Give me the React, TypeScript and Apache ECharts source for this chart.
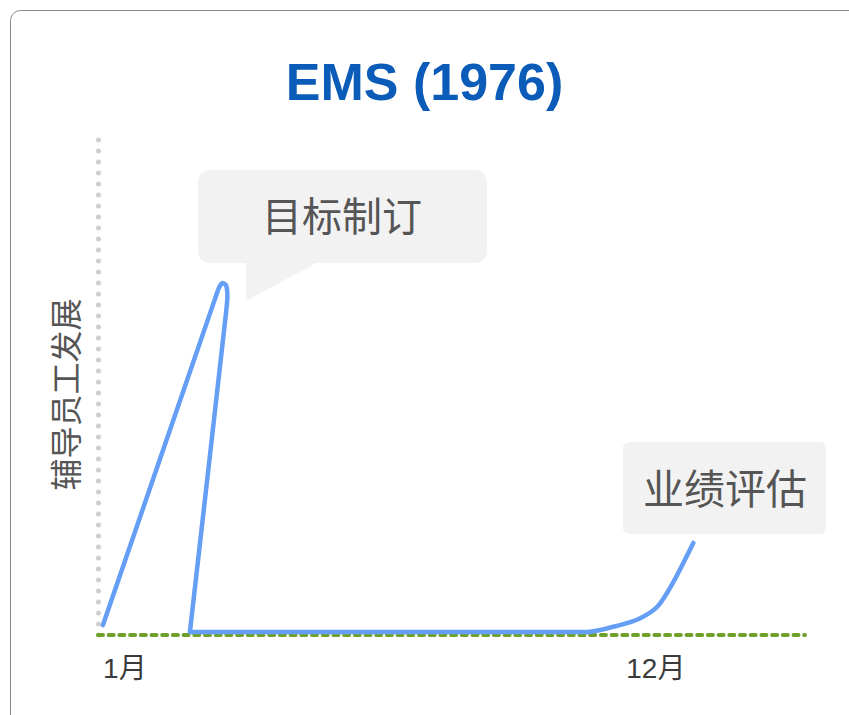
import React, { useEffect, useRef } from "react";
import * as echarts from "echarts";

const titleText = "EMS (1976)";
const yAxisName = "辅导员工发展";
const monthLabels = ["1月", "12月"];
const monthPositions = [3.8, 78.9];
const curveX = [0.7, 16.5, 17.1, 17.6, 18.1, 18.3, 18.1, 13.0, 69.2, 73.8, 76.7, 79.1, 81.3, 84.2];
const curveY = [2.0, 67.7, 70.1, 71.1, 70.7, 68.5, 65.0, 0.6, 0.6, 2.0, 3.4, 5.7, 10.5, 18.6];
const calloutTexts = ["目标制订", "业绩评估"];

const FONT = "'Liberation Sans', Arial, 'Noto Sans CJK SC', sans-serif";

export default function App() {
  const ref = useRef<HTMLDivElement>(null);
  useEffect(() => {
    if (!ref.current) return;
    const chart = echarts.init(ref.current, undefined, { renderer: "svg" });
    const data = curveX.map((x, i) => [x, curveY[i]]);
    chart.setOption({
      animation: false,
      backgroundColor: "#ffffff",
      title: {
        text: titleText,
        left: "center",
        top: 51,
        textStyle: { color: "#0b5cb8", fontSize: 52, fontWeight: "bold", fontFamily: FONT },
      },
      grid: { left: 98, right: 44, top: 140, bottom: 80 },
      xAxis: {
        type: "value",
        min: 0,
        max: 100,
        splitLine: { show: false },
        axisTick: { show: false },
        axisLine: {
          show: true,
          lineStyle: { color: "#6fa02a", width: 4, type: [5, 5.7] },
        },
        axisLabel: {
          customValues: monthPositions,
          formatter: (v: number) => {
            const i = monthPositions.indexOf(v);
            return i >= 0 ? monthLabels[i] : "";
          },
          color: "#3a3a3a",
          fontSize: 28,
          margin: 19,
          fontFamily: FONT,
        },
      },
      yAxis: {
        type: "value",
        min: 0,
        max: 100,
        name: yAxisName,
        nameLocation: "middle",
        nameGap: 15,
        nameTextStyle: { color: "#555555", fontSize: 32, fontFamily: FONT, padding: [0, 14, 0, 0] },
        splitLine: { show: false },
        axisTick: { show: false },
        axisLabel: { show: false },
        axisLine: {
          show: true,
          lineStyle: { color: "#cfcfcf", width: 5, type: [0.1, 10.9], cap: "round" },
        },
      },
      series: [
        {
          type: "line",
          data,
          smooth: 0.25,
          showSymbol: false,
          clip: false,
          lineStyle: { color: "#649ef5", width: 4.5, cap: "round", join: "round" },
        },
      ],
      graphic: [
        {
          type: "rect",
          shape: { x: 10.5, y: 10.5, width: 900, height: 760, r: 10 },
          style: { fill: "none", stroke: "#8a8a8a", lineWidth: 1 },
          z: 0,
        },
        {
          type: "rect",
          shape: { x: 198, y: 170, width: 289, height: 93, r: 12 },
          style: { fill: "#f2f2f2" },
          z: 10,
        },
        {
          type: "polygon",
          shape: { points: [[246, 262], [318, 262], [246, 301]] },
          style: { fill: "#f2f2f2" },
          z: 10,
        },
        {
          type: "text",
          x: 342,
          y: 217,
          style: {
            text: calloutTexts[0],
            fontSize: 40,
            fill: "#555555",
            fontFamily: FONT,
            align: "center",
            verticalAlign: "middle",
          },
          z: 11,
        },
        {
          type: "rect",
          shape: { x: 623, y: 442, width: 203, height: 92, r: 6 },
          style: { fill: "#f2f2f2" },
          z: 10,
        },
        {
          type: "text",
          x: 725,
          y: 490,
          style: {
            text: calloutTexts[1],
            fontSize: 41,
            fill: "#555555",
            fontFamily: FONT,
            align: "center",
            verticalAlign: "middle",
          },
          z: 11,
        },
      ],
    });
    return () => chart.dispose();
  }, []);
  return (
    <div
      ref={ref}
      style={{ position: "fixed", left: 0, top: 0, width: 849, height: 715 }}
    />
  );
}
